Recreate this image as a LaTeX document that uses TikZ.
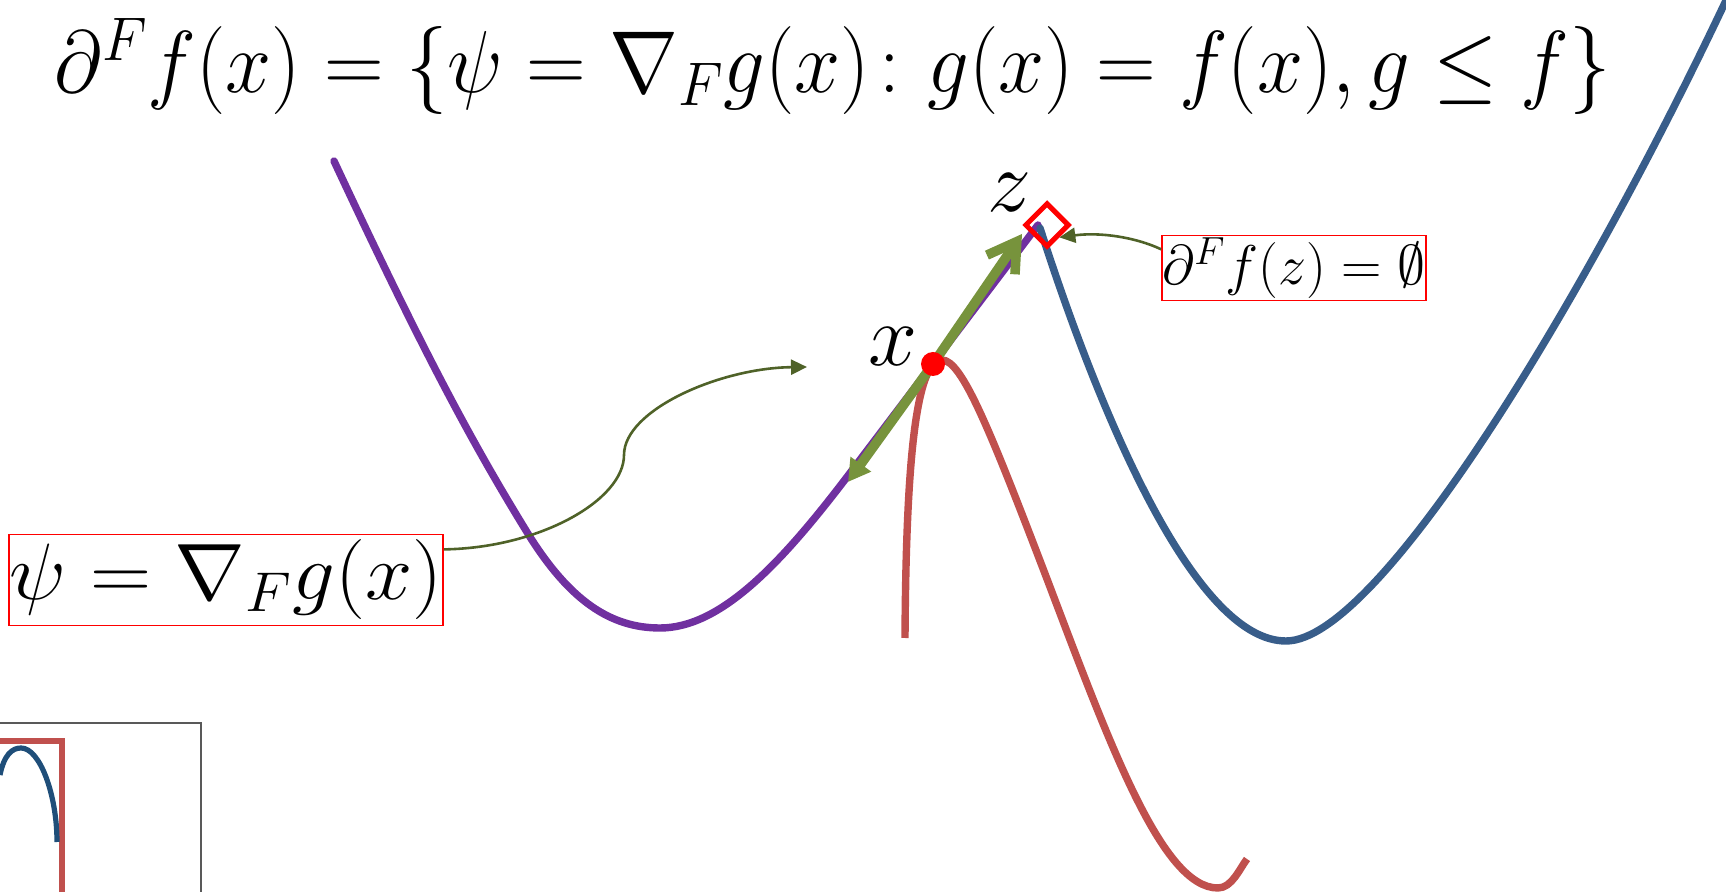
\RequirePackage{fix-cm}
\documentclass[tikz,border=0pt]{standalone}
\usepackage{amsmath}
\usepackage{amssymb}
\usepackage{graphicx}
\usepackage{tikz}
\usetikzlibrary{arrows.meta}

\definecolor{fpurple}{HTML}{7030A0}
\definecolor{fblue}{HTML}{385D8A}
\definecolor{fred}{HTML}{C0504D}
\definecolor{fgreen}{HTML}{77933C}
\definecolor{folive}{HTML}{4F6228}
\definecolor{iblue}{HTML}{1F4E79}

\begin{document}
\begin{tikzpicture}[x=0.5pt, y=-0.5pt,
    fcurve/.style={line width=3.7pt, line cap=round, line join=round},
    redbox/.style={draw=red, line width=0.8pt, inner sep=0pt},
    conline/.style={draw=folive, line width=1.3pt, -{Triangle[length=8pt,width=7.5pt]}},
    gradline/.style={draw=fgreen, line width=4.8pt}]
  \clip (0,0) rectangle (1726,892);

  \node (def) at (833,66) {\scalebox{0.94}[1]{\fontsize{44}{50}\selectfont $\partial^F f(x) = \{\psi = \nabla_F g(x)\colon g(x) = f(x), g \leq f\}$}};

  % the functions
  \draw[fcurve, fpurple] (334,161) .. controls (420,345) and (470,440) .. (530,537)
    .. controls (570,600) and (610,628) .. (660,628)
    .. controls (720,628) and (780,565) .. (847,477) -- (1038,225);
  \draw[fcurve, fblue] (1040,228) .. controls (1100,415) and (1195,641) .. (1286,641)
    .. controls (1380,641) and (1590,290) .. (1730,-8);
  \draw[fcurve, fred, line cap=butt] (905,638) .. controls (906,470) and (915,360) .. (942,360)
    .. controls (962,360) and (990,430) .. (1047,579)
    .. controls (1110,745) and (1162,888) .. (1218,888)
    .. controls (1232,888) and (1240,868) .. (1247,859);

  % gradient at x
  \node[circle, fill=red, minimum size=11pt, inner sep=0pt] (x) at (933,364) {};
  \coordinate (gup) at (1022,234);
  \coordinate (gdown) at (848,482);
  \draw[gradline, -{Straight Barb[length=14pt,width=17pt]}] (x.center) -- (gup);
  \draw[gradline, -{Triangle[length=11pt,width=12pt]}] (x.center) -- (gdown);
  \node[circle, fill=red, minimum size=12pt, inner sep=0pt] at (x) {};

  \node[draw=red, line width=2.5pt, minimum size=15pt, inner sep=0pt, rotate=45] (z) at (1047,225) {};

  \node (xlab) at (893,347) {\fontsize{44}{50}\selectfont $x$};
  \node (zlab) at (1009,193) {\fontsize{44}{50}\selectfont $z$};

  % labels
  \node[redbox, minimum width=217pt, minimum height=45.5pt] (psi) at (226,580) {\scalebox{1.06}[1]{\fontsize{40}{46}\selectfont $\psi = \nabla_F g(x)$}};
  \node[redbox, minimum width=132pt, minimum height=32.5pt] (empt) at (1294,268) {\fontsize{28}{32}\selectfont $\partial^F f(z) = \emptyset$};

  \coordinate (psitip) at (807,367);
  \draw[conline] (psi.8) .. controls (540,548) and (624,500) .. (624,455) .. controls (624,410) and (720,368) .. (psitip);
  \draw[conline] (empt.172) .. controls (1135,237) and (1100,232) .. (z.south);

  % small inset
  \draw[black!65, line width=0.8pt] (-5,723) rectangle (201,900);
  \draw[fred, line width=2.6pt] (-5,741) -- (62,741) -- (62,900);
  \draw[iblue, line width=2.6pt] (0,775) .. controls (4,755) and (12,748) .. (21,748) .. controls (40,748) and (57,795) .. (57,842);
\end{tikzpicture}
\end{document}
